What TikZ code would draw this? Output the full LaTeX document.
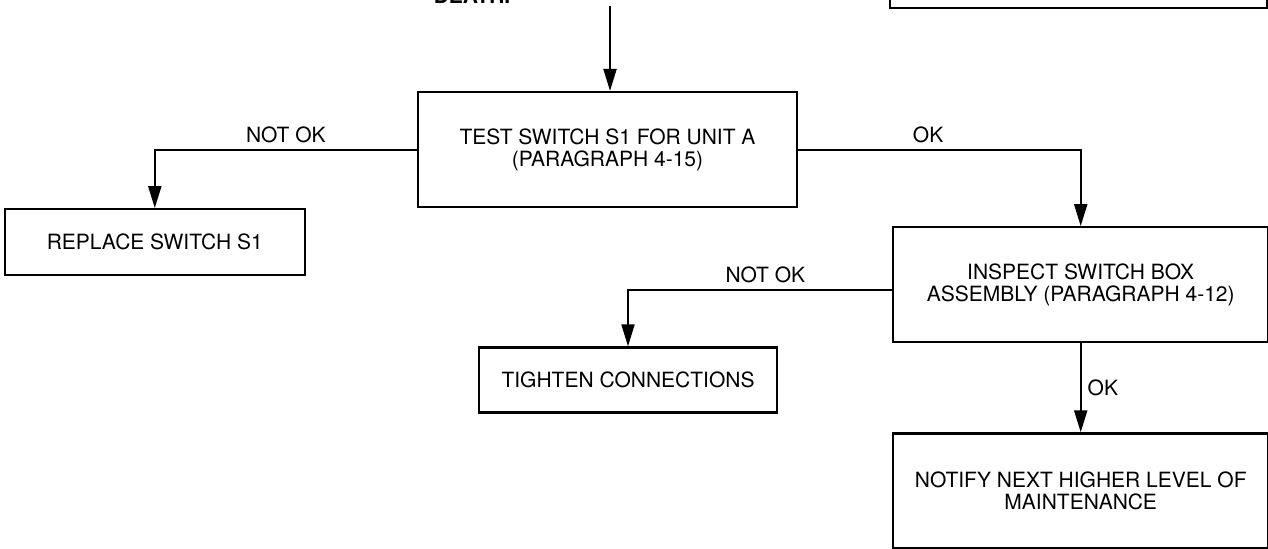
\documentclass[tikz,border=0pt]{standalone}
\usepackage{fontspec}
\setmainfont{TeX Gyre Heros}
\usepackage{tikz}
\usetikzlibrary{arrows.meta, positioning, calc}

\begin{document}
\begin{tikzpicture}[
    font=\fontsize{10.5}{11}\selectfont,
    box/.style={rectangle, draw, line width=1.1pt, align=center, minimum width=187.5pt, minimum height=57.5pt, inner sep=0pt},
    smallbox/.style={box, minimum height=33pt},
    arrow/.style={-{Triangle[length=11pt, width=6.5pt]}, line width=1pt},
    lbl/.style={inner sep=3pt}
]
\useasboundingbox (0,0) rectangle (634pt,-274pt);

\node[box, minimum width=189.5pt] (test) at (303.75pt,-74.75pt) {TEST SWITCH S1 FOR UNIT A\\(PARAGRAPH 4-15)};
\node[smallbox, minimum width=150pt, below left=0pt and 55.5pt of test] (replace) {REPLACE SWITCH S1};
\node[box, below right=9pt and 47pt of test] (inspect) {INSPECT SWITCH BOX\\ASSEMBLY (PARAGRAPH 4-12)};
\node[smallbox, minimum width=149pt, minimum height=32.5pt, below left=1.5pt and 57pt of inspect] (tighten) {TIGHTEN CONNECTIONS};
\node[box, below=44.5pt of inspect] (notify) {NOTIFY NEXT HIGHER LEVEL OF\\MAINTENANCE};

% partly cut off at the top edge
\node[box, minimum width=188.5pt, minimum height=60pt, above right=41pt and 45.5pt of test] (caution) {};
\node[anchor=base, font=\bfseries\fontsize{10.5}{11}\selectfont] (note) at ($(test.north)+(-67.75pt,43.5pt)$) {DEATH.};
\coordinate (entry) at ($(test.north)+(1.25pt,42.5pt)$);

\draw[arrow] (entry) -- (entry |- test.north);
\draw[arrow] (test.west) -| node[lbl, pos=0.25, above] {NOT OK} (replace.north);
\draw[arrow] (test.east) -| node[lbl, pos=0.23, above] {OK} (inspect.north);
\draw[arrow] ($(inspect.west)+(0,-2.5pt)$) -| node[lbl, pos=0.24, above] {NOT OK} (tighten.north);
\draw[arrow] (inspect.south) -- node[lbl, right] {OK} (notify.north);

\end{tikzpicture}
\end{document}
